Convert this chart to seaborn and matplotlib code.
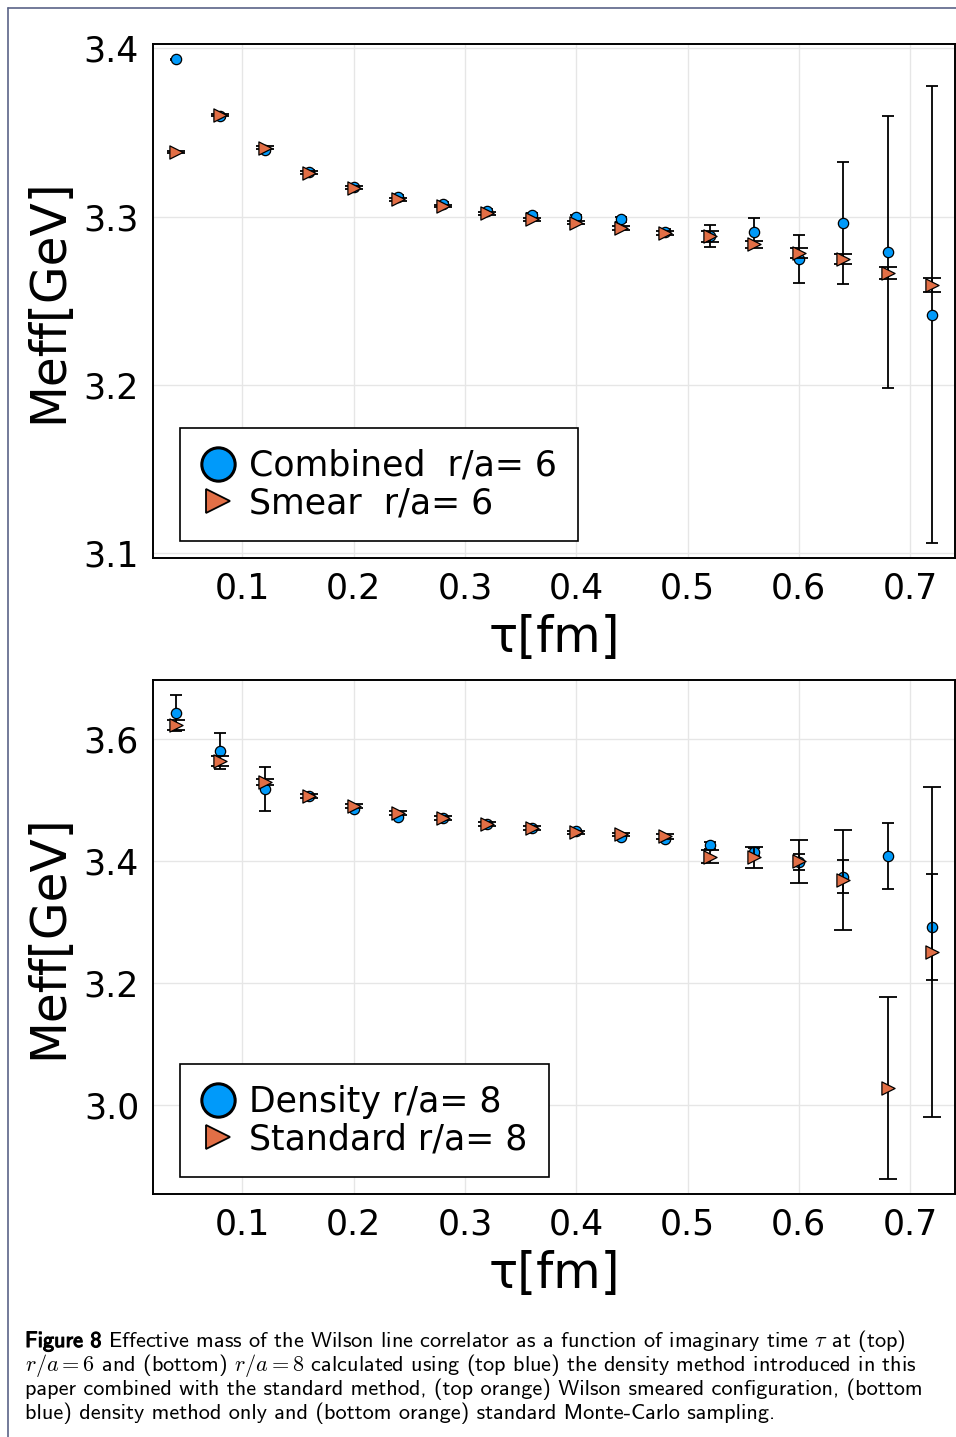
import matplotlib
matplotlib.use("Agg")
import matplotlib.pyplot as plt
import matplotlib.patheffects as pe
from matplotlib.lines import Line2D
from matplotlib.ticker import MultipleLocator, FormatStrFormatter
import pandas as pd
import seaborn as sns

# imaginary time values (fm)
tau = [0.04, 0.08, 0.12, 0.16, 0.20, 0.24, 0.28, 0.32, 0.36,
       0.40, 0.44, 0.48, 0.52, 0.56, 0.60, 0.64, 0.68, 0.72]

# top panel, r/a = 6
comb6 = [3.3935, 3.3597, 3.3395, 3.3267, 3.3175, 3.3119, 3.3075, 3.3036, 3.3010,
         3.2996, 3.2985, 3.2910, 3.2885, 3.2911, 3.2747, 3.2961, 3.2789, 3.2417]
comb6_err = [0.0005, 0.001, 0.001, 0.001, 0.001, 0.001, 0.001, 0.001, 0.001,
             0.0012, 0.0015, 0.0015, 0.0066, 0.008, 0.0143, 0.0364, 0.0807, 0.136]
smear6 = [3.3385, 3.3605, 3.3411, 3.3261, 3.3172, 3.3103, 3.3063, 3.3020, 3.2984,
          3.2964, 3.2933, 3.2905, 3.2882, 3.2836, 3.2783, 3.2747, 3.2664, 3.2593]
smear6_err = [0.0008, 0.0008, 0.0008, 0.0008, 0.0008, 0.0008, 0.0008, 0.0008, 0.0008,
              0.001, 0.001, 0.0012, 0.003, 0.002, 0.003, 0.003, 0.0036, 0.0043]

# bottom panel, r/a = 8
dens8 = [3.6441, 3.5809, 3.5183, 3.5070, 3.4867, 3.4730, 3.4710, 3.4620, 3.4550,
         3.4501, 3.4403, 3.4360, 3.4262, 3.4153, 3.3990, 3.3749, 3.4093, 3.2921]
dens8_err = [0.0295, 0.0294, 0.036, 0.002, 0.002, 0.002, 0.002, 0.002, 0.002,
             0.002, 0.002, 0.003, 0.006, 0.006, 0.013, 0.0267, 0.054, 0.0867]
std8 = [3.6234, 3.5645, 3.5302, 3.5073, 3.4910, 3.4795, 3.4709, 3.4615, 3.4550,
        3.4474, 3.4442, 3.4414, 3.4076, 3.4066, 3.4000, 3.3695, 3.0283, 3.2513]
std8_err = [0.008, 0.008, 0.005, 0.003, 0.003, 0.003, 0.003, 0.003, 0.003,
            0.003, 0.003, 0.004, 0.011, 0.0174, 0.0349, 0.0815, 0.15, 0.2703]

labels_top = ["Combined  r/a= 6", "Smear  r/a= 6"]
labels_bot = ["Density r/a= 8", "Standard r/a= 8"]

caption = [
    r" Effective mass of the Wilson line correlator as a function of imaginary time $\tau$ at (top)",
    r"$r/a = 6$ and (bottom) $r/a = 8$ calculated using (top blue) the density method introduced in this",
    "paper combined with the standard method, (top orange) Wilson smeared configuration, (bottom",
    "blue) density method only and (bottom orange) standard Monte-Carlo sampling.",
]

BLUE = "#009AFA"
ORANGE = "#E26F46"

sns.set_style("white")
plt.rcParams["font.family"] = ["DejaVu Sans"]
plt.rcParams["mathtext.fontset"] = "cm"
plt.rcParams["text.color"] = "black"
plt.rcParams["axes.labelcolor"] = "black"
plt.rcParams["xtick.color"] = "black"
plt.rcParams["ytick.color"] = "black"

W, H = 956, 1437
fig = plt.figure(figsize=(W / 100, H / 100), dpi=100)
ax_top = fig.add_axes([153 / W, 1 - 558 / H, 802 / W, 514 / H])
ax_bot = fig.add_axes([153 / W, 1 - 1194 / H, 802 / W, 514 / H])


def panel(ax, y1, e1, y2, e2, labels, step):
    df = pd.DataFrame({
        "tau": tau * 2,
        "meff": y1 + y2,
        "series": [labels[0]] * len(tau) + [labels[1]] * len(tau),
    })
    ax.errorbar(tau, y1, yerr=e1, fmt="none", ecolor="black", elinewidth=1.3,
                capsize=4.5, capthick=1.3, zorder=2)
    sns.scatterplot(data=df[df.series == labels[0]], x="tau", y="meff", ax=ax,
                    color=BLUE, marker="o", s=55, edgecolor="black", linewidth=0.9,
                    legend=False, zorder=3)
    ax.errorbar(tau, y2, yerr=e2, fmt="none", ecolor="black", elinewidth=1.3,
                capsize=6.5, capthick=1.3, zorder=4)
    sns.scatterplot(data=df[df.series == labels[1]], x="tau", y="meff", ax=ax,
                    color=ORANGE, marker=">", s=90, edgecolor="black", linewidth=0.9,
                    legend=False, zorder=5)

    # limits like the original: data range plus 3 %
    lo = min(min(a - b for a, b in zip(y1, e1)), min(a - b for a, b in zip(y2, e2)))
    hi = max(max(a + b for a, b in zip(y1, e1)), max(a + b for a, b in zip(y2, e2)))
    pad = 0.03 * (hi - lo)
    ax.set_ylim(lo - pad, hi + pad)
    xpad = 0.03 * (max(tau) - min(tau))
    ax.set_xlim(min(tau) - xpad, max(tau) + xpad)

    ax.xaxis.set_major_locator(MultipleLocator(0.1))
    ax.xaxis.set_major_formatter(FormatStrFormatter("%.1f"))
    ax.yaxis.set_major_locator(MultipleLocator(step))
    ax.yaxis.set_major_formatter(FormatStrFormatter("%.1f"))
    ax.tick_params(direction="in", length=4, width=1, top=False, right=False,
                   labelsize=25, pad=10, colors="black")
    ax.grid(True, color="#e6e6e6", linewidth=1)
    ax.set_axisbelow(True)
    for sp in ax.spines.values():
        sp.set_visible(True)
        sp.set_color("black")
        sp.set_linewidth(1.4)

    ax.set_xlabel("τ[fm]", fontsize=35, labelpad=6, color="black")
    ax.set_ylabel("Meff[GeV]", fontsize=35, labelpad=8, color="black")

    handles = [
        Line2D([], [], marker="o", ls="none", ms=24, mfc=BLUE, mec="black", mew=2.2),
        Line2D([], [], marker=">", ls="none", ms=17, mfc=ORANGE, mec="black", mew=1.3),
    ]
    leg = ax.legend(handles, labels, loc="lower left",
                    bbox_to_anchor=(27 / 802, 17 / 514), borderaxespad=0,
                    fontsize=25, frameon=True, fancybox=False, edgecolor="black",
                    framealpha=1, handlelength=1.0, handletextpad=0.4,
                    borderpad=0.6, labelspacing=0.1)
    leg.get_frame().set_linewidth(1.2)
    for t in leg.get_texts():
        t.set_color("black")


panel(ax_top, comb6, comb6_err, smear6, smear6_err, labels_top, 0.1)
panel(ax_bot, dens8, dens8_err, std8, std8_err, labels_bot, 0.2)

# page frame
fig.add_artist(Line2D([8 / W, 8 / W], [1 - 8 / H, 0], transform=fig.transFigure,
                      color="#5b6487", lw=1.2))
fig.add_artist(Line2D([8 / W, 1], [1 - 8 / H, 1 - 8 / H], transform=fig.transFigure,
                      color="#5b6487", lw=1.2))

# caption
cap_size = 16
baselines = [1347, 1371, 1395, 1419]
head = fig.text(25 / W, 1 - baselines[0] / H, "Figure 8", fontfamily="cmss10",
                fontsize=cap_size, va="baseline", ha="left",
                path_effects=[pe.withStroke(linewidth=0.8, foreground="black")])
fig.canvas.draw()
bb = head.get_window_extent(fig.canvas.get_renderer())
fig.text(bb.x1 / W, 1 - baselines[0] / H, caption[0], fontfamily="cmss10",
         fontsize=cap_size, va="baseline", ha="left")
for line, b in zip(caption[1:], baselines[1:]):
    fig.text(25 / W, 1 - b / H, line, fontfamily="cmss10", fontsize=cap_size,
             va="baseline", ha="left")

fig.savefig("out.png", dpi=100)
